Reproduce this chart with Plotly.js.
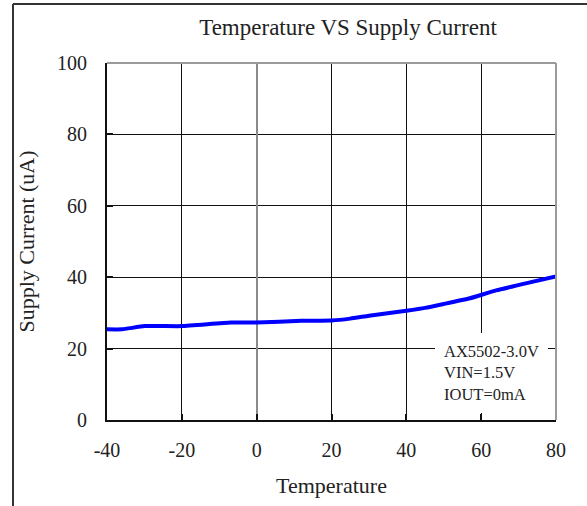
<!DOCTYPE html>
<html>
<head>
<meta charset="utf-8">
<script src="https://cdn.plot.ly/plotly-3.0.1.min.js"></script>
<style>
html,body{margin:0;padding:0;background:#fff;}
#chart{width:587px;height:506px;}
</style>
</head>
<body>
<div id="chart"></div>
<script>
// Data
const temperature = [-40, -36, -30, -20, -7, 0, 12, 20, 25, 30, 40, 45, 50, 57, 64, 80];
const supplyCurrent = [25.4, 25.4, 26.3, 26.3, 27.3, 27.3, 27.8, 27.9, 28.4, 29.2, 30.6, 31.4, 32.5, 34.1, 36.3, 40.2];
const xTicks = [-40, -20, 0, 20, 40, 60, 80];
const yTicks = [0, 20, 40, 60, 80, 100];
const chartTitle = "Temperature VS Supply Current";
const xTitle = "Temperature";
const yTitle = "Supply Current (uA)";
const noteLines = ["AX5502-3.0V", "VIN=1.5V", "IOUT=0mA"];

const FONT = "Liberation Serif, Times New Roman, serif";

const trace = {
  x: temperature,
  y: supplyCurrent,
  type: "scatter",
  mode: "lines",
  line: {color: "#0000FF", width: 4, shape: "spline", smoothing: 0.4},
  hoverinfo: "skip"
};

const layout = {
  width: 587,
  height: 506,
  margin: {l: 107, r: 31, t: 63, b: 86, pad: 0},
  paper_bgcolor: "#fff",
  plot_bgcolor: "#fff",
  showlegend: false,
  font: {family: FONT, color: "#222", size: 20},
  title: {
    text: chartTitle,
    font: {family: FONT, size: 23, color: "#222"},
    xref: "container", x: 348/587, xanchor: "center",
    yref: "container", y: 1 - 27/506, yanchor: "middle"
  },
  xaxis: {
    range: [-40, 80],
    tickvals: xTicks,
    ticktext: xTicks.map(String),
    showgrid: true, gridcolor: "#111", gridwidth: 1,
    zeroline: true, zerolinecolor: "#8a8a8a", zerolinewidth: 2,
    showline: true, linecolor: "#111", linewidth: 2,
    ticks: "inside", ticklen: 6, tickwidth: 2, tickcolor: "#111",
    ticklabelstandoff: 11,
    tickfont: {family: FONT, size: 20, color: "#222"},
    title: {text: xTitle, font: {family: FONT, size: 22, color: "#222"}, standoff: 18},
    fixedrange: true
  },
  yaxis: {
    range: [0, 100],
    tickvals: yTicks,
    ticktext: yTicks.map(String),
    showgrid: true, gridcolor: "#111", gridwidth: 1,
    zeroline: false,
    showline: true, linecolor: "#111", linewidth: 2,
    ticks: "inside", ticklen: 6, tickwidth: 2, tickcolor: "#111",
    ticklabelstandoff: 14,
    tickfont: {family: FONT, size: 20, color: "#222"},
    title: {text: yTitle, font: {family: FONT, size: 22, color: "#222"}, standoff: 16},
    fixedrange: true
  },
  shapes: [
    // top and right plot border (gray)
    {type: "line", xref: "paper", yref: "paper", x0: 0, x1: 1, y0: 1, y1: 1,
     line: {color: "#9a9a9a", width: 2}},
    {type: "line", xref: "paper", yref: "paper", x0: 1, x1: 1, y0: 0, y1: 1,
     line: {color: "#9a9a9a", width: 2}},
    // white box behind the note
    {type: "rect", xref: "paper", yref: "paper", layer: "above",
     x0: (435-107)/449, x1: (548-107)/449, y0: (420-413)/357, y1: (420-333)/357,
     fillcolor: "#fff", line: {width: 0}},
    // outer frame (left and top)
    {type: "line", xref: "paper", yref: "paper",
     x0: (13-107)/449, x1: (13-107)/449, y0: (420-4)/357, y1: (420-510)/357,
     line: {color: "#333", width: 2}},
    {type: "line", xref: "paper", yref: "paper",
     x0: (13-107)/449, x1: (590-107)/449, y0: (420-4)/357, y1: (420-4)/357,
     line: {color: "#333", width: 2}}
  ],
  annotations: [
    {xref: "paper", yref: "paper", x: (442-107)/449, y: (420-373)/357,
     xanchor: "left", yanchor: "middle", align: "left", showarrow: false,
     text: noteLines.join("<br>"),
     font: {family: FONT, size: 16.5, color: "#222"}}
  ]
};

Plotly.newPlot("chart", [trace], layout, {displayModeBar: false, staticPlot: true});
</script>
</body>
</html>
